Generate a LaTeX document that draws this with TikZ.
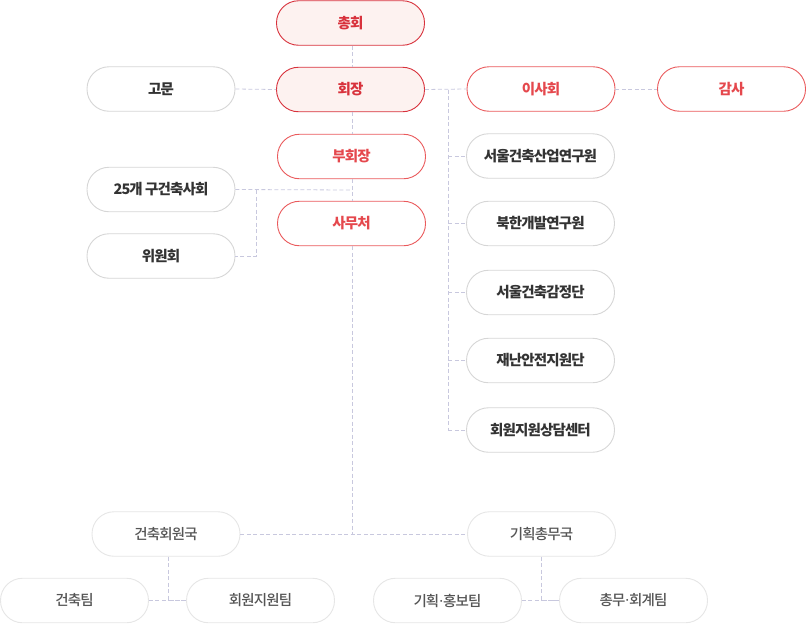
\documentclass[tikz,border=0pt]{standalone}
\usepackage{fontspec}
\setmainfont{Noto Sans CJK KR}[LetterSpace=-6]
\newfontfamily\krmed{Noto Sans CJK KR Medium}[LetterSpace=-6]
\newfontfamily\dotfont{Noto Sans}
\newcommand{\mdot}{{\dotfont\bfseries·}}
\definecolor{redA}{HTML}{D8323C}
\definecolor{redFill}{HTML}{FDF2F0}
\definecolor{redB}{HTML}{EA5A5C}
\definecolor{redTxt}{HTML}{E5484D}
\definecolor{grayBd}{HTML}{D6D6D6}
\definecolor{grayTxt}{HTML}{333333}
\definecolor{lightBd}{HTML}{E6E6E6}
\definecolor{midTxt}{HTML}{555555}
\definecolor{conn}{HTML}{C8C8DE}
\begin{document}
\begin{tikzpicture}[x=1pt,y=-1pt,
  box/.style={rounded corners=22pt, minimum width=148pt, minimum height=44.5pt, inner sep=0pt, line width=0.9pt, font=\fontsize{14.5}{16}\selectfont\bfseries},
  topbox/.style={box, draw=redA, fill=redFill, text=redA},
  redbox/.style={box, draw=redB, fill=white, text=redTxt},
  graybox/.style={box, draw=grayBd, fill=white, text=grayTxt},
  lightbox/.style={box, draw=lightBd, fill=white, text=midTxt, font=\fontsize{14.5}{16}\selectfont\krmed},
  link/.style={draw=conn, dashed, dash pattern=on 4pt off 2.5pt, line width=0.8pt}]
\useasboundingbox (0,0) rectangle (807,627);
\coordinate (top) at (352,45);
\coordinate (mid) at (352,534);
\coordinate (jg) at (352,190);
\coordinate (jw) at (256,190);
\coordinate (jr) at (448,89.5);
\coordinate (jre) at (448,430);
\node[topbox] (chonghoe) at (350.5,23) {총회};
\node[topbox] (hoejang) at (350.5,89.5) {회장};
\node[redbox] (buhoe) at (351.5,156.5) {부회장};
\node[redbox] (samu) at (351.5,223.5) {사무처};
\node[graybox] (gomun) at (161,89) {고문};
\node[graybox] (gu) at (161,189.5) {25개 구건축사회};
\node[graybox] (wiwon) at (161,256) {위원회};
\node[redbox] (isa) at (541,89) {이사회};
\node[redbox] (gamsa) at (731.5,89) {감사};
\node[graybox] (r1) at (540.5,156) {서울건축산업연구원};
\node[graybox] (r2) at (540.5,223.5) {북한개발연구원};
\node[graybox] (r3) at (540.5,292.5) {서울건축감정단};
\node[graybox] (r4) at (540.5,360.5) {재난안전지원단};
\node[graybox] (r5) at (540.5,430) {회원지원상담센터};
\node[lightbox] (b1) at (166,534) {건축회원국};
\node[lightbox] (b2) at (541.5,534) {기획총무국};
\node[lightbox] (t1) at (74.5,600.5) {건축팀};
\node[lightbox] (t2) at (260.5,600.5) {회원지원팀};
\node[lightbox] (t3) at (447.5,600.5) {기획\mdot 홍보팀};
\node[lightbox] (t4) at (633.5,600.5) {총무\mdot 회계팀};
\path[link] (chonghoe.south -| top) -- (hoejang.north -| top);
\path[link] (hoejang.south -| top) -- (buhoe.north -| top);
\path[link] (buhoe.south -| top) -- (samu.north -| top);
\path[link] (samu.south -| top) -- (mid);
\path[link] (gu.east) -- (jg);
\path[link] (jw) |- (wiwon.east);
\path[link] (gomun.east) -- (hoejang.west);
\path[link] (hoejang.east) -- (isa.west);
\path[link] (isa.east) -- (gamsa.west);
\path[link] (jr) -- (jre);
\path[link] (r1.west -| jr) -- (r1.west);
\path[link] (r2.west -| jr) -- (r2.west);
\path[link] (r3.west -| jr) -- (r3.west);
\path[link] (r4.west -| jr) -- (r4.west);
\path[link] (jre) -- (r5.west);
\path[link] (b1.east) -- (b2.west);
\path[link] (b1.south -| 168,0) |- (t2.west);
\path[link] (t1.east) -- (t2.west);
\path[link] (b2.south) |- (t4.west);
\path[link] (t3.east) -- (t4.west);
\end{tikzpicture}
\end{document}
